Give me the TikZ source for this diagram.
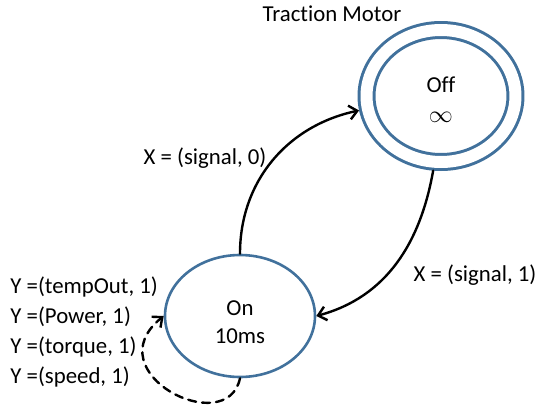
\documentclass[tikz,border=0pt]{standalone}
\usepackage{fontspec}
\setmainfont{Carlito}[Ligatures=NoCommon]
\usetikzlibrary{shapes.geometric,arrows.meta}
\definecolor{stateblue}{RGB}{65,113,156}
\begin{document}
\begin{tikzpicture}[x=0.5pt,y=0.5pt,line join=round,line cap=round,
  font=\fontsize{11.4}{14}\selectfont,>={Straight Barb[length=4pt,width=7pt]},
  state/.style={ellipse,draw=stateblue,line width=1.3pt,inner sep=0pt,align=center},
  trans/.style={->,line width=1.2pt}]
\useasboundingbox (0,0) rectangle (538,404);
\node (title) at (332,390) {Tract\kern0pt ion Motor};
\node[state,double,double distance=6pt,line width=1.5pt,outer sep=4.5pt,minimum width=74.5pt,minimum height=66pt] (off) at (441,308) {\rule{0pt}{11pt}Off\\[1pt]{\large$\infty$}};
\node[state,minimum width=75pt,minimum height=61pt] (on) at (240,88) {\rule{0pt}{13.5pt}On\\10ms};
\draw[trans] (on.north) to[out=90,in=192] (off.190);
\draw[trans] (off.264) to[out=-100,in=15] (on.east);
\draw[trans,dashed,dash pattern=on 4pt off 3pt] (on.south) .. controls +(-102:63) and +(219:90) .. (on.west);
\node (x0) at (205,246) {X = (signal, 0)};
\node (x1) at (475,129) {X = (signal, 1)};
\node[align=left,anchor=west,inner sep=0pt,font=\fontsize{11.4}{15}\selectfont] (ylbl) at (10,72) {Y =(tempOut, 1)\\Y =(Power, 1)\\Y =(torque, 1)\\Y =(speed, 1)};
\end{tikzpicture}
\end{document}
